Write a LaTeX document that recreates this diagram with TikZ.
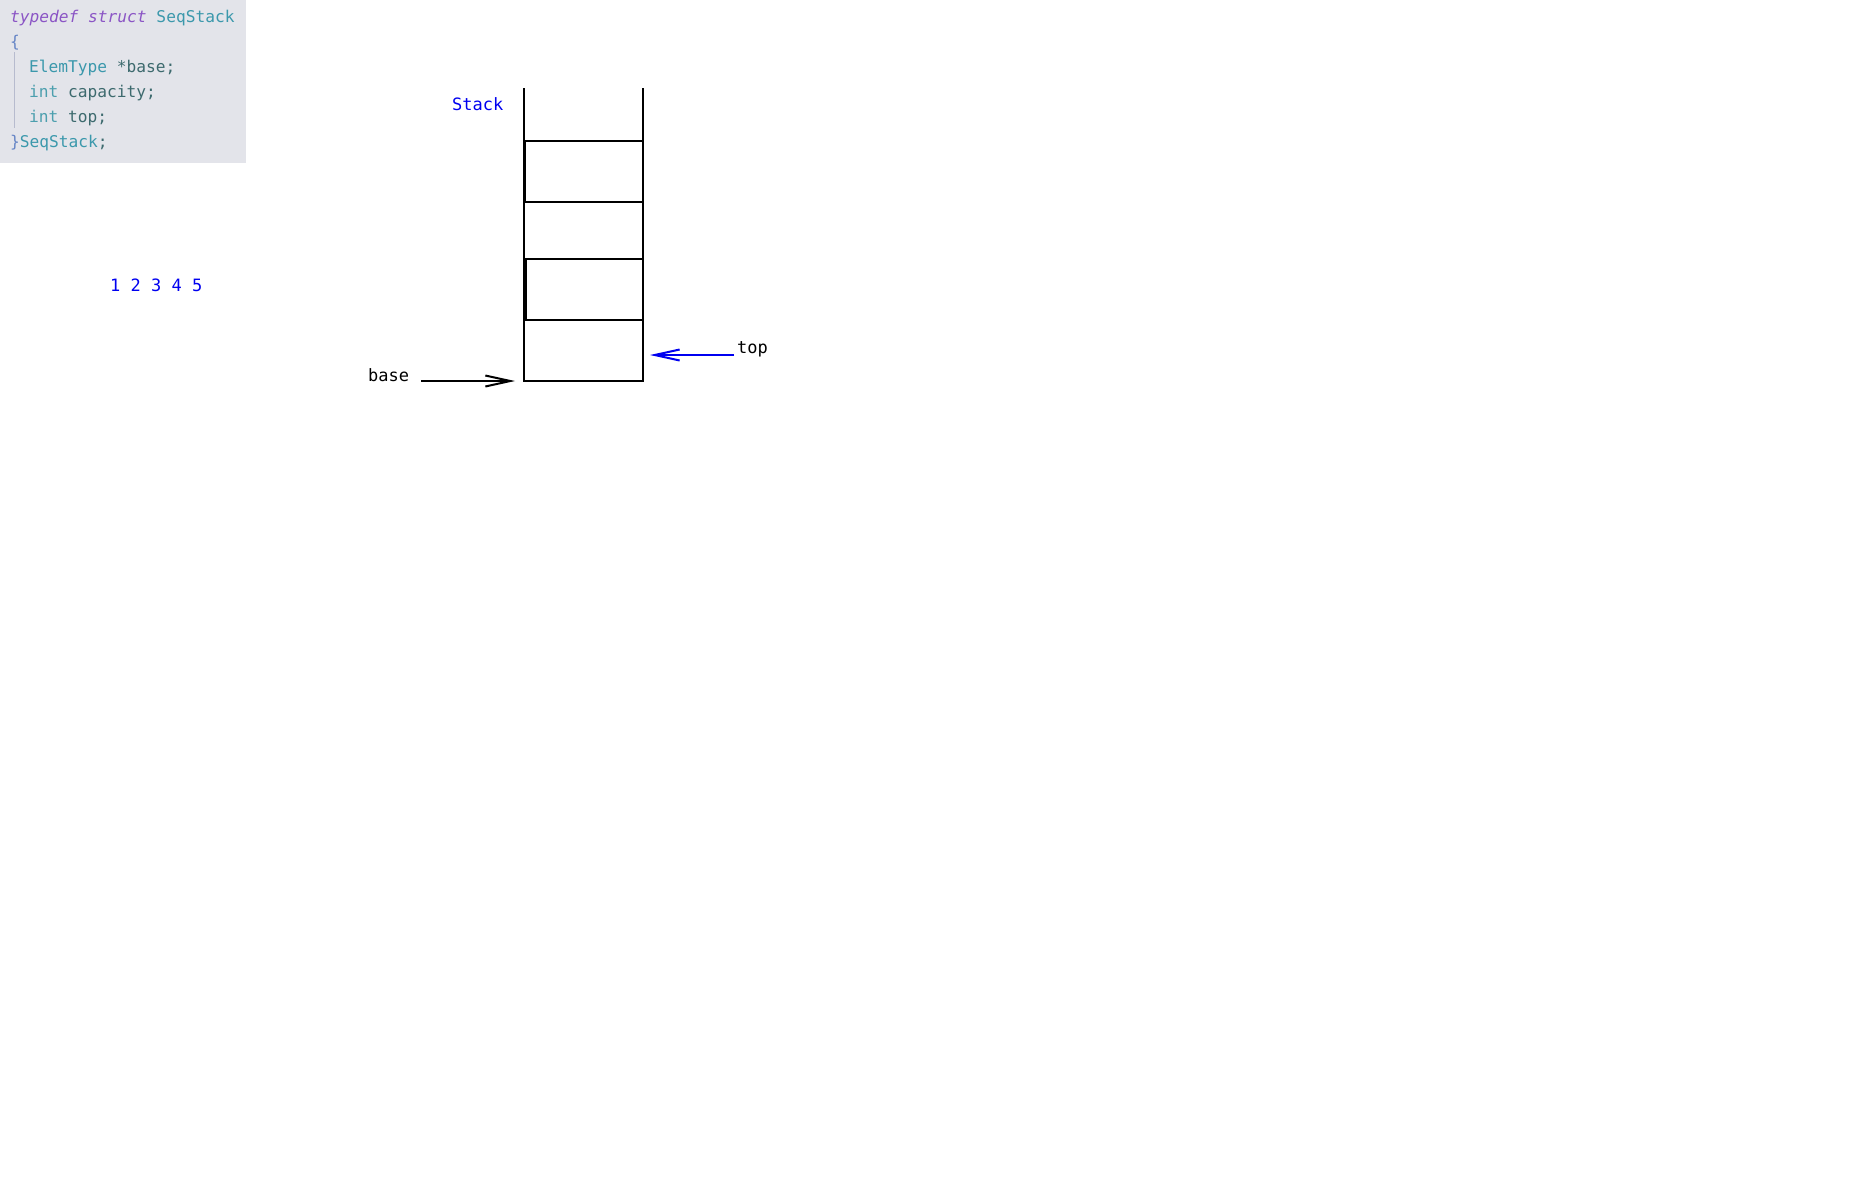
\documentclass[tikz,border=0pt]{standalone}
\usepackage{fontspec}
\setmonofont{DejaVu Sans Mono}
\usetikzlibrary{arrows.meta}
\definecolor{codebg}{HTML}{E3E4EA}
\definecolor{kwpurple}{HTML}{8B55C5}
\definecolor{typeteal}{HTML}{3B98AC}
\definecolor{braceblue}{HTML}{6685C6}
\definecolor{identdark}{HTML}{3D6A6E}
\definecolor{intteal}{HTML}{4C9FAE}
\definecolor{guide}{HTML}{B7BBCE}
\definecolor{lblblue}{HTML}{0000F0}
\begin{document}
\begin{tikzpicture}[x=1pt,y=-1pt,
  codetxt/.style={anchor=base west,inner sep=0pt,font=\ttfamily\fontsize{16.2}{25}\selectfont},
  lbl/.style={anchor=base west,inner sep=0pt,font=\ttfamily\fontsize{17}{20}\selectfont},
  wall/.style={line width=2pt,black},
  barb/.style={line width=2pt,-{Straight Barb[length=25pt,width=11pt,line width=2pt]}}]
\useasboundingbox (0,0) rectangle (1860,1200);
% code box
\fill[codebg] (0,0) rectangle (246,163);
\draw[guide,line width=1pt] (14,52) -- (14,128);
\node[codetxt] (l1) at (10,22) {\textcolor{kwpurple}{\itshape typedef struct} \textcolor{typeteal}{SeqStack}};
\node[codetxt] (l2) at (10,47) {\textcolor{braceblue}{\{}};
\node[codetxt] (l3) at (29,72) {\textcolor{typeteal}{ElemType} \textcolor{identdark}{*base;}};
\node[codetxt] (l4) at (29,97) {\textcolor{intteal}{int} \textcolor{identdark}{capacity;}};
\node[codetxt] (l5) at (29,122) {\textcolor{intteal}{int} \textcolor{identdark}{top;}};
\node[codetxt] (l6) at (10,147) {\textcolor{braceblue}{\}}\textcolor{typeteal}{SeqStack}\textcolor{identdark}{;}};
% digits
\node[lbl,text=lblblue] (nums) at (110,291.5) {1 2 3 4 5};
% stack
\coordinate (tl) at (524,88);
\coordinate (tr) at (643,88);
\coordinate (bl) at (524,381);
\coordinate (br) at (643,381);
\draw[wall] (tl) -- (bl) -- (br) -- (tr);
\foreach \yy in {141,202,259,320} \draw[wall] (524,\yy) -- (643,\yy);
\draw[wall] (525.2,141) -- (525.2,202);
\draw[wall] (526,259) -- (526,320);
\node[lbl,text=lblblue] (stk) at (452,110.5) {Stack};
% base
\node[lbl] (base) at (368,381.5) {base};
\coordinate (bs) at (421,381);
\coordinate (be) at (515,381);
\draw[barb] (bs) -- (be);
% top
\node[lbl] (top) at (737,353) {top};
\coordinate (ts) at (734,355);
\coordinate (te) at (650,355);
\draw[barb,lblblue] (ts) -- (te);
\end{tikzpicture}
\end{document}
